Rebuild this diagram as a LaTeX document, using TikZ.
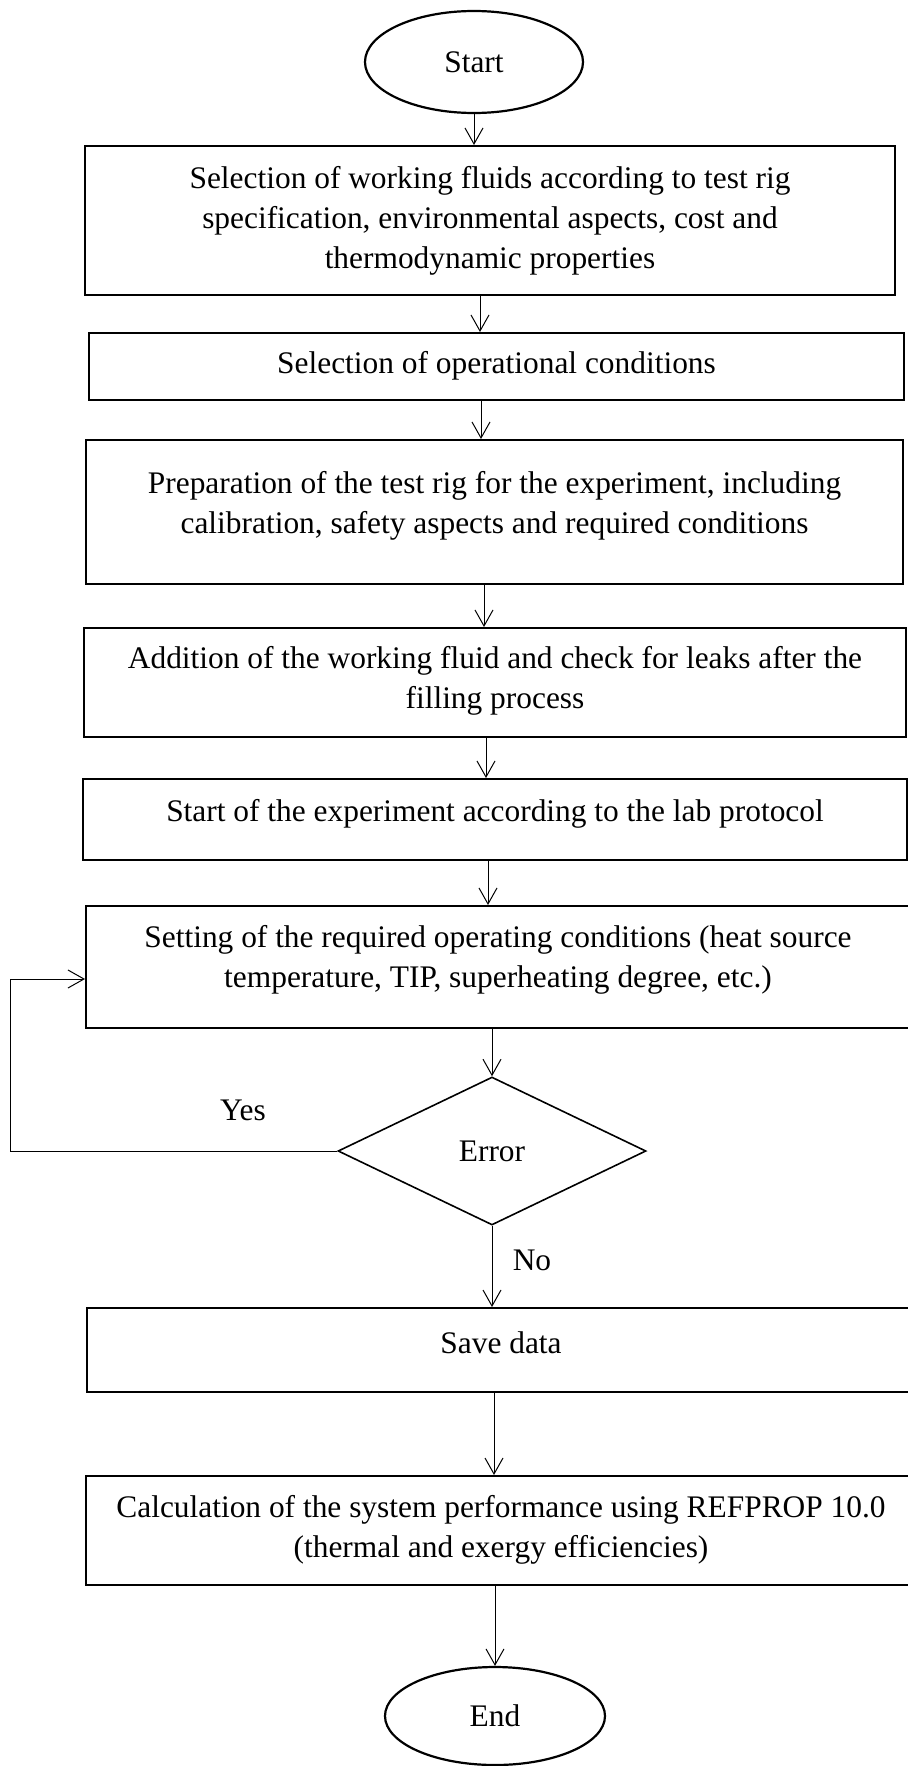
\documentclass[tikz,border=0pt]{standalone}
\usepackage{fontspec}
\setmainfont{Liberation Serif}
\usetikzlibrary{arrows.meta,shapes.geometric}
\begin{document}
\begin{tikzpicture}[x=0.5pt,y=-0.5pt,
  box/.style={draw, line width=1pt, rectangle, inner sep=0pt},
  term/.style={draw, line width=1.1pt, ellipse, inner sep=0pt, font=\fontsize{15.7}{20}\selectfont},
  dec/.style={draw, line width=0.8pt, diamond, inner sep=0pt, font=\fontsize{15.7}{20}\selectfont},
  txt/.style={align=center, inner sep=0pt, font=\fontsize{15.7}{20}\selectfont},
  arr/.style={line width=0.5pt, -{Straight Barb[length=8pt,width=9pt]}}
]
\useasboundingbox (0,0) rectangle (907,1766);

\node[term, minimum width=109pt, minimum height=51pt] (start) at (474,62) {Start};

\node[box, minimum width=405pt, minimum height=74.5pt] (b1) at (490,220.5) {};
\node[txt] (t1) at (490,221) {Selection of working fluids according to test rig\\specification, environmental aspects, cost and\\thermodynamic properties};

\node[box, minimum width=407.5pt, minimum height=33.5pt] (b2) at (496.5,366.5) {};
\node[txt] (t2) at (496.5,366) {Selection of operational conditions};

\node[box, minimum width=408.5pt, minimum height=72pt] (b3) at (494.5,512) {};
\node[txt] (t3) at (494.5,506) {Preparation of the test rig for the experiment, including\\calibration, safety aspects and required conditions};

\node[box, minimum width=411pt, minimum height=54.5pt] (b4) at (495,682.5) {};
\node[txt] (t4) at (495,681) {Addition of the working fluid and check for leaks after the\\filling process};

\node[box, minimum width=412pt, minimum height=40.5pt] (b5) at (495,819.5) {};
\node[txt] (t5) at (495,814) {Start of the experiment according to the lab protocol};

\node[box, minimum width=412pt, minimum height=61pt] (b6) at (498,967) {};
\node[txt] (t6) at (498,960) {Setting of the required operating conditions (heat source\\temperature, TIP, superheating degree, etc.)};

\node[dec, minimum width=154pt, minimum height=74pt] (d) at (492,1151) {Error};

\node[box, minimum width=412pt, minimum height=42pt] (b7) at (499,1350) {};
\node[txt] (t7) at (501,1343) {Save data};

\node[box, minimum width=412.5pt, minimum height=54.5pt] (b8) at (498.5,1530.5) {};
\node[txt] (t8) at (501,1530) {Calculation of the system performance using REFPROP 10.0\\(thermal and exergy efficiencies)};

\node[term, minimum width=110pt, minimum height=49pt] (end) at (495,1716) {End};

\node[txt] (yes) at (243,1110) {Yes};
\node[txt] (no) at (532,1260) {No};

\draw[arr] (start.south) -- (start.south |- b1.north);
\draw[arr] (480,0 |- b1.south) -- (480,0 |- b2.north);
\draw[arr] (481,0 |- b2.south) -- (481,0 |- b3.north);
\draw[arr] (484,0 |- b3.south) -- (484,0 |- b4.north);
\draw[arr] (486,0 |- b4.south) -- (486,0 |- b5.north);
\draw[arr] (488,0 |- b5.south) -- (488,0 |- b6.north);
\draw[arr] (d.north |- b6.south) -- (d.north);
\draw[arr] (d.south) -- (d.south |- b7.north);
\draw[arr] (494,0 |- b7.south) -- (494,0 |- b8.north);
\draw[arr] (end.north |- b8.south) -- (end.north);

\coordinate (lp) at (10,979);
\draw[arr] (d.west) -| (lp) -- (b6.west |- lp);
\end{tikzpicture}
\end{document}
